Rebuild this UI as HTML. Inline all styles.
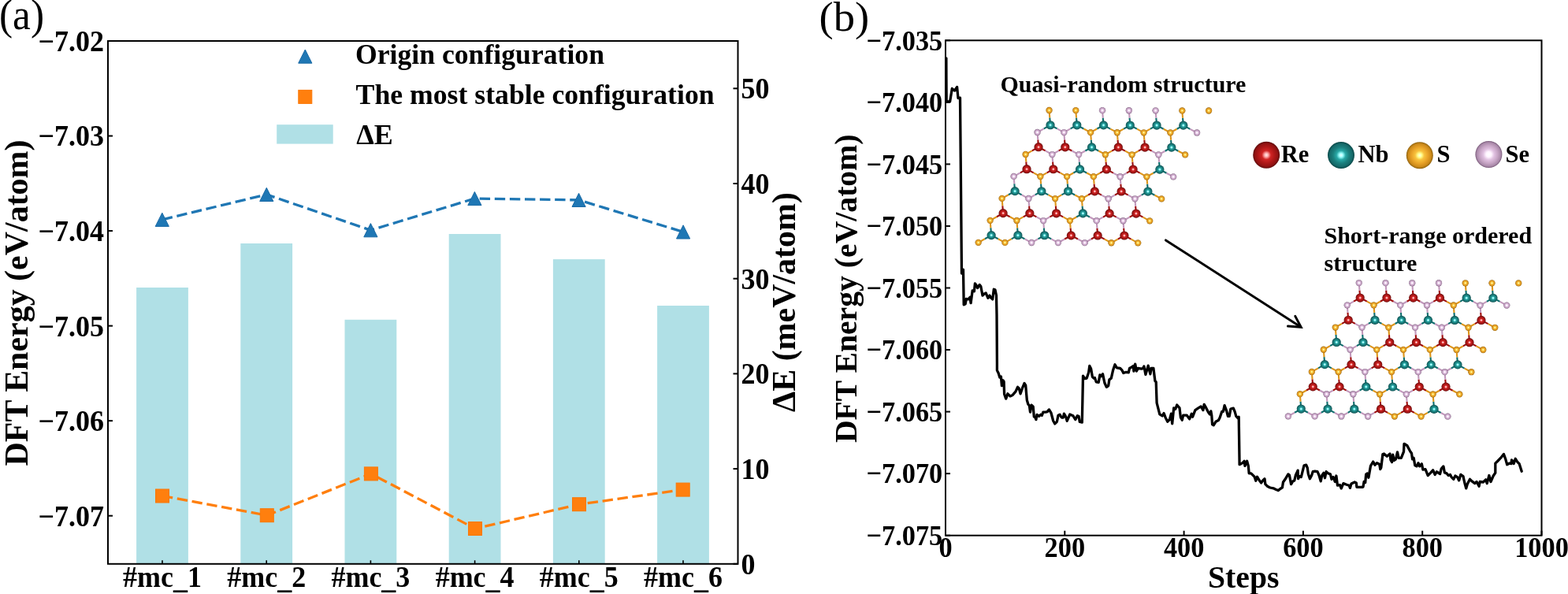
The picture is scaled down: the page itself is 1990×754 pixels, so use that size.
<!DOCTYPE html>
<html><head><meta charset="utf-8"><title>DFT energy figure</title>
<style>html,body{margin:0;padding:0;background:#fff;overflow:hidden}svg{display:block}</style></head>
<body><svg width="1990" height="754" viewBox="0 0 1990 754" font-family="'Liberation Serif', 'Times New Roman', serif" font-weight="bold">
<defs><radialGradient id="gRe" cx="0.5" cy="0.5" r="0.5"><stop offset="0" stop-color="#fff0f0"/><stop offset="0.14" stop-color="#ffb0b0"/><stop offset="0.34" stop-color="#d02424"/><stop offset="0.6" stop-color="#b01818"/><stop offset="0.85" stop-color="#921212"/><stop offset="1" stop-color="#5e0c0c"/></radialGradient><radialGradient id="gNb" cx="0.5" cy="0.5" r="0.5"><stop offset="0" stop-color="#f0ffff"/><stop offset="0.14" stop-color="#a0ffff"/><stop offset="0.34" stop-color="#28a8a6"/><stop offset="0.6" stop-color="#1b807e"/><stop offset="0.85" stop-color="#156a6a"/><stop offset="1" stop-color="#0a4646"/></radialGradient><radialGradient id="gS" cx="0.5" cy="0.5" r="0.5"><stop offset="0" stop-color="#ffffe8"/><stop offset="0.15" stop-color="#ffff90"/><stop offset="0.34" stop-color="#f8c23e"/><stop offset="0.62" stop-color="#e8a228"/><stop offset="0.86" stop-color="#cc8a1a"/><stop offset="1" stop-color="#8e6210"/></radialGradient><radialGradient id="gSe" cx="0.5" cy="0.5" r="0.5"><stop offset="0" stop-color="#ffffff"/><stop offset="0.2" stop-color="#fff4ff"/><stop offset="0.42" stop-color="#e0c0e0"/><stop offset="0.68" stop-color="#c6a4c4"/><stop offset="0.9" stop-color="#a888a8"/><stop offset="1" stop-color="#745474"/></radialGradient></defs>
<rect width="1990" height="754" fill="#fff"/>
<rect x="173.10" y="365" width="65.8" height="350.80" fill="#b0e0e6"/>
<rect x="305.30" y="309" width="65.8" height="406.80" fill="#b0e0e6"/>
<rect x="437.50" y="405.8" width="65.8" height="310.00" fill="#b0e0e6"/>
<rect x="569.70" y="297" width="65.8" height="418.80" fill="#b0e0e6"/>
<rect x="701.90" y="329.1" width="65.8" height="386.70" fill="#b0e0e6"/>
<rect x="834.10" y="388" width="65.8" height="327.80" fill="#b0e0e6"/>
<polyline points="205.8,278.8 338.3,246.9 470.4,292.2 602.4,252.0 734.6,253.9 867.1,294.4" fill="none" stroke="#1f77b4" stroke-width="3.3" stroke-dasharray="13.4 5.7"/>
<polyline points="206.0,629.5 338.8,654.2 470.9,601.4 603.0,671.0 735.0,640.2 866.7,621.6" fill="none" stroke="#ff7f0e" stroke-width="3.3" stroke-dasharray="13.4 5.7"/>
<path d="M205.80,270.20 L197.20,287.40 L214.40,287.40 Z" fill="#1f77b4" stroke="#1a6aa6" stroke-width="1" stroke-linejoin="round"/>
<path d="M338.30,238.30 L329.70,255.50 L346.90,255.50 Z" fill="#1f77b4" stroke="#1a6aa6" stroke-width="1" stroke-linejoin="round"/>
<path d="M470.40,283.60 L461.80,300.80 L479.00,300.80 Z" fill="#1f77b4" stroke="#1a6aa6" stroke-width="1" stroke-linejoin="round"/>
<path d="M602.40,243.40 L593.80,260.60 L611.00,260.60 Z" fill="#1f77b4" stroke="#1a6aa6" stroke-width="1" stroke-linejoin="round"/>
<path d="M734.60,245.30 L726.00,262.50 L743.20,262.50 Z" fill="#1f77b4" stroke="#1a6aa6" stroke-width="1" stroke-linejoin="round"/>
<path d="M867.10,285.80 L858.50,303.00 L875.70,303.00 Z" fill="#1f77b4" stroke="#1a6aa6" stroke-width="1" stroke-linejoin="round"/>
<rect x="197.50" y="621.00" width="17" height="17" fill="#ff7f0e" stroke="#fb7808" stroke-width="1"/>
<rect x="330.30" y="645.70" width="17" height="17" fill="#ff7f0e" stroke="#fb7808" stroke-width="1"/>
<rect x="462.40" y="592.90" width="17" height="17" fill="#ff7f0e" stroke="#fb7808" stroke-width="1"/>
<rect x="594.50" y="662.50" width="17" height="17" fill="#ff7f0e" stroke="#fb7808" stroke-width="1"/>
<rect x="726.50" y="631.70" width="17" height="17" fill="#ff7f0e" stroke="#fb7808" stroke-width="1"/>
<rect x="858.20" y="613.10" width="17" height="17" fill="#ff7f0e" stroke="#fb7808" stroke-width="1"/>
<rect x="137.0" y="52.0" width="799.5" height="663.8" fill="none" stroke="#000" stroke-width="2.0"/>
<line x1="137.0" y1="52.00" x2="143.0" y2="52.00" stroke="#000" stroke-width="2.0"/>
<text transform="translate(131.9,64.90) scale(1,1.035)" text-anchor="end" font-size="36">−7.02</text>
<line x1="137.0" y1="172.54" x2="143.0" y2="172.54" stroke="#000" stroke-width="2.0"/>
<text transform="translate(131.9,185.44) scale(1,1.035)" text-anchor="end" font-size="36">−7.03</text>
<line x1="137.0" y1="293.08" x2="143.0" y2="293.08" stroke="#000" stroke-width="2.0"/>
<text transform="translate(131.9,305.98) scale(1,1.035)" text-anchor="end" font-size="36">−7.04</text>
<line x1="137.0" y1="413.62" x2="143.0" y2="413.62" stroke="#000" stroke-width="2.0"/>
<text transform="translate(131.9,426.52) scale(1,1.035)" text-anchor="end" font-size="36">−7.05</text>
<line x1="137.0" y1="534.16" x2="143.0" y2="534.16" stroke="#000" stroke-width="2.0"/>
<text transform="translate(131.9,547.06) scale(1,1.035)" text-anchor="end" font-size="36">−7.06</text>
<line x1="137.0" y1="654.70" x2="143.0" y2="654.70" stroke="#000" stroke-width="2.0"/>
<text transform="translate(131.9,667.60) scale(1,1.035)" text-anchor="end" font-size="36">−7.07</text>
<line x1="936.5" y1="715.80" x2="930.5" y2="715.80" stroke="#000" stroke-width="2.0"/>
<text transform="translate(940.6,728.60) scale(1,1.035)" font-size="36">0</text>
<line x1="936.5" y1="595.10" x2="930.5" y2="595.10" stroke="#000" stroke-width="2.0"/>
<text transform="translate(940.6,607.90) scale(1,1.035)" font-size="36">10</text>
<line x1="936.5" y1="474.40" x2="930.5" y2="474.40" stroke="#000" stroke-width="2.0"/>
<text transform="translate(940.6,487.20) scale(1,1.035)" font-size="36">20</text>
<line x1="936.5" y1="353.70" x2="930.5" y2="353.70" stroke="#000" stroke-width="2.0"/>
<text transform="translate(940.6,366.50) scale(1,1.035)" font-size="36">30</text>
<line x1="936.5" y1="233.00" x2="930.5" y2="233.00" stroke="#000" stroke-width="2.0"/>
<text transform="translate(940.6,245.80) scale(1,1.035)" font-size="36">40</text>
<line x1="936.5" y1="112.30" x2="930.5" y2="112.30" stroke="#000" stroke-width="2.0"/>
<text transform="translate(940.6,125.10) scale(1,1.035)" font-size="36">50</text>
<line x1="206.00" y1="715.8" x2="206.00" y2="711.3" stroke="#000" stroke-width="1.6"/>
<text transform="translate(206.00,744.9) scale(1,1.035)" text-anchor="middle" font-size="36">#mc<tspan dy="2.5">_</tspan><tspan dy="-2.5">1</tspan></text>
<line x1="338.20" y1="715.8" x2="338.20" y2="711.3" stroke="#000" stroke-width="1.6"/>
<text transform="translate(338.20,744.9) scale(1,1.035)" text-anchor="middle" font-size="36">#mc<tspan dy="2.5">_</tspan><tspan dy="-2.5">2</tspan></text>
<line x1="470.40" y1="715.8" x2="470.40" y2="711.3" stroke="#000" stroke-width="1.6"/>
<text transform="translate(470.40,744.9) scale(1,1.035)" text-anchor="middle" font-size="36">#mc<tspan dy="2.5">_</tspan><tspan dy="-2.5">3</tspan></text>
<line x1="602.60" y1="715.8" x2="602.60" y2="711.3" stroke="#000" stroke-width="1.6"/>
<text transform="translate(602.60,744.9) scale(1,1.035)" text-anchor="middle" font-size="36">#mc<tspan dy="2.5">_</tspan><tspan dy="-2.5">4</tspan></text>
<line x1="734.80" y1="715.8" x2="734.80" y2="711.3" stroke="#000" stroke-width="1.6"/>
<text transform="translate(734.80,744.9) scale(1,1.035)" text-anchor="middle" font-size="36">#mc<tspan dy="2.5">_</tspan><tspan dy="-2.5">5</tspan></text>
<line x1="867.00" y1="715.8" x2="867.00" y2="711.3" stroke="#000" stroke-width="1.6"/>
<text transform="translate(867.00,744.9) scale(1,1.035)" text-anchor="middle" font-size="36">#mc<tspan dy="2.5">_</tspan><tspan dy="-2.5">6</tspan></text>
<text transform="translate(34.8,384.5) rotate(-90)" text-anchor="middle" font-size="42" textLength="414" lengthAdjust="spacingAndGlyphs">DFT Energy (eV/atom)</text>
<text transform="translate(1009.3,383.6) rotate(-90)" text-anchor="middle" font-size="42" textLength="279" lengthAdjust="spacingAndGlyphs">ΔE (meV/atom)</text>
<path d="M387.30,63.00 L378.70,80.20 L395.90,80.20 Z" fill="#1f77b4" stroke="#1a6aa6" stroke-width="1" stroke-linejoin="round"/>
<rect x="378.80" y="114.40" width="17" height="17" fill="#ff7f0e" stroke="#fb7808" stroke-width="1"/>
<rect x="351.2" y="158.2" width="71.5" height="24.4" fill="#b0e0e6"/>
<text x="451" y="81.3" font-size="36" textLength="316" lengthAdjust="spacingAndGlyphs">Origin configuration</text>
<text x="451.6" y="132.4" font-size="36" textLength="455" lengthAdjust="spacingAndGlyphs">The most stable configuration</text>
<text x="452.3" y="182.6" font-size="36">ΔE</text>
<text x="-1" y="37.2" font-size="55" font-weight="normal" textLength="57" lengthAdjust="spacingAndGlyphs">(a)</text>
<rect x="1200.0" y="51.3" width="756.5" height="628.4000000000001" fill="none" stroke="#000" stroke-width="2.0"/>
<line x1="1200.0" y1="51.30" x2="1206.0" y2="51.30" stroke="#000" stroke-width="2.0"/>
<text transform="translate(1196.2,63.60) scale(1,1.065)" text-anchor="end" font-size="34.3">−7.035</text>
<line x1="1200.0" y1="129.85" x2="1206.0" y2="129.85" stroke="#000" stroke-width="2.0"/>
<text transform="translate(1196.2,142.15) scale(1,1.065)" text-anchor="end" font-size="34.3">−7.040</text>
<line x1="1200.0" y1="208.40" x2="1206.0" y2="208.40" stroke="#000" stroke-width="2.0"/>
<text transform="translate(1196.2,220.70) scale(1,1.065)" text-anchor="end" font-size="34.3">−7.045</text>
<line x1="1200.0" y1="286.95" x2="1206.0" y2="286.95" stroke="#000" stroke-width="2.0"/>
<text transform="translate(1196.2,299.25) scale(1,1.065)" text-anchor="end" font-size="34.3">−7.050</text>
<line x1="1200.0" y1="365.50" x2="1206.0" y2="365.50" stroke="#000" stroke-width="2.0"/>
<text transform="translate(1196.2,377.80) scale(1,1.065)" text-anchor="end" font-size="34.3">−7.055</text>
<line x1="1200.0" y1="444.05" x2="1206.0" y2="444.05" stroke="#000" stroke-width="2.0"/>
<text transform="translate(1196.2,456.35) scale(1,1.065)" text-anchor="end" font-size="34.3">−7.060</text>
<line x1="1200.0" y1="522.60" x2="1206.0" y2="522.60" stroke="#000" stroke-width="2.0"/>
<text transform="translate(1196.2,534.90) scale(1,1.065)" text-anchor="end" font-size="34.3">−7.065</text>
<line x1="1200.0" y1="601.15" x2="1206.0" y2="601.15" stroke="#000" stroke-width="2.0"/>
<text transform="translate(1196.2,613.45) scale(1,1.065)" text-anchor="end" font-size="34.3">−7.070</text>
<line x1="1200.0" y1="679.70" x2="1206.0" y2="679.70" stroke="#000" stroke-width="2.0"/>
<text transform="translate(1196.2,692.00) scale(1,1.065)" text-anchor="end" font-size="34.3">−7.075</text>
<line x1="1200.00" y1="679.7" x2="1200.00" y2="673.7" stroke="#000" stroke-width="2.0"/>
<text transform="translate(1200.00,707.2) scale(1,1.065)" text-anchor="middle" font-size="34.3">0</text>
<line x1="1351.30" y1="679.7" x2="1351.30" y2="673.7" stroke="#000" stroke-width="2.0"/>
<text transform="translate(1351.30,707.2) scale(1,1.065)" text-anchor="middle" font-size="34.3">200</text>
<line x1="1502.60" y1="679.7" x2="1502.60" y2="673.7" stroke="#000" stroke-width="2.0"/>
<text transform="translate(1502.60,707.2) scale(1,1.065)" text-anchor="middle" font-size="34.3">400</text>
<line x1="1653.90" y1="679.7" x2="1653.90" y2="673.7" stroke="#000" stroke-width="2.0"/>
<text transform="translate(1653.90,707.2) scale(1,1.065)" text-anchor="middle" font-size="34.3">600</text>
<line x1="1805.20" y1="679.7" x2="1805.20" y2="673.7" stroke="#000" stroke-width="2.0"/>
<text transform="translate(1805.20,707.2) scale(1,1.065)" text-anchor="middle" font-size="34.3">800</text>
<line x1="1956.50" y1="679.7" x2="1956.50" y2="673.7" stroke="#000" stroke-width="2.0"/>
<text transform="translate(1956.50,707.2) scale(1,1.065)" text-anchor="middle" font-size="34.3">1000</text>
<text x="1578.2" y="745.8" text-anchor="middle" font-size="39.7">Steps</text>
<text transform="translate(1086.7,366.3) rotate(-90)" text-anchor="middle" font-size="39.7" textLength="391.5" lengthAdjust="spacingAndGlyphs">DFT Energy (eV/atom)</text>
<text x="1039.6" y="39.2" font-size="53.4" font-weight="normal" textLength="63.6" lengthAdjust="spacingAndGlyphs">(b)</text>
<polyline points="1200.9,73.8 1201.0,100.0 1201.2,128.9 1205.6,128.9 1208.3,112.5 1211.4,115.1 1214.6,110.4 1216.0,124.7 1218.5,124.2 1219.2,200.0 1220.5,347.0 1222.5,342.3 1223.2,386.8 1225.2,385.7 1226.3,379.4 1228.9,379.9 1231.1,377.3 1232.1,384.7 1234.2,368.8 1236.4,369.8 1237.4,359.8 1239.0,361.9 1240.6,365.6 1243.2,361.4 1244.8,363.5 1247.0,375.1 1249.1,373.0 1251.2,372.0 1253.9,378.3 1256.0,375.1 1257.6,377.8 1259.7,379.9 1261.3,367.2 1262.9,367.7 1264.5,375.1 1265.0,400.0 1265.4,460.0 1265.4,470.1 1267.2,473.8 1268.8,479.1 1270.4,478.0 1271.4,489.7 1273.0,482.8 1274.1,484.4 1274.6,500.3 1276.7,506.1 1278.9,499.8 1282.0,502.9 1285.2,501.4 1288.9,497.1 1291.6,491.3 1293.2,492.9 1295.1,499.8 1297.4,492.9 1300.1,486.5 1301.7,489.2 1303.3,507.7 1304.8,513.0 1306.4,515.1 1307.5,523.1 1309.1,514.1 1311.2,516.2 1312.3,528.9 1313.9,530.0 1314.9,532.6 1316.0,526.3 1318.6,528.4 1320.7,526.3 1322.3,527.3 1323.9,523.1 1327.1,523.1 1329.2,522.6 1331.4,519.9 1334.0,524.2 1336.7,534.2 1338.8,537.9 1341.4,535.3 1343.0,527.3 1345.1,526.3 1347.3,530.0 1349.4,530.0 1350.4,525.2 1352.6,528.9 1354.2,534.4 1357.8,526.0 1361.9,527.8 1364.9,532.6 1367.3,527.8 1369.1,528.4 1370.3,535.5 1373.3,536.1 1374.5,477.1 1376.8,480.7 1379.2,480.1 1381.6,472.9 1382.8,464.5 1384.6,468.1 1386.4,478.3 1388.2,480.1 1389.4,479.5 1391.2,484.8 1394.2,485.4 1395.9,475.9 1397.7,477.7 1399.5,474.7 1401.9,486.0 1404.3,491.4 1406.7,489.6 1407.9,481.8 1410.3,480.1 1412.6,469.9 1415.0,462.8 1417.4,466.9 1421.6,467.5 1424.0,469.9 1425.8,473.5 1429.4,472.3 1432.3,472.9 1433.5,467.5 1435.9,466.3 1438.3,464.5 1438.9,471.1 1440.7,462.2 1442.5,471.1 1444.3,467.5 1449.0,468.1 1450.6,467.5 1451.9,464.9 1453.9,475.5 1457.2,464.2 1459.9,474.8 1461.2,467.5 1463.9,467.5 1465.9,483.5 1467.2,484.8 1468.1,511.3 1471.8,525.9 1475.1,527.9 1477.1,524.6 1479.1,529.9 1481.8,535.2 1484.4,532.5 1486.4,525.2 1487.7,537.8 1489.7,517.9 1491.7,519.3 1493.7,514.0 1497.0,517.9 1498.4,529.9 1500.3,533.2 1501.7,527.2 1506.3,527.2 1509.6,531.9 1512.3,525.2 1513.6,529.2 1516.9,520.6 1520.9,517.9 1524.2,516.0 1526.9,520.6 1528.2,513.3 1530.8,517.9 1533.5,523.2 1535.5,525.9 1536.8,521.9 1537.8,527.6 1538.6,538.8 1540.3,539.7 1542.9,535.3 1546.4,533.6 1548.1,530.2 1550.7,522.4 1552.4,522.4 1554.1,514.7 1556.7,521.6 1558.4,528.4 1560.2,528.4 1561.9,519.0 1565.3,518.1 1567.1,522.4 1568.8,528.4 1571.4,531.0 1572.2,529.3 1573.1,589.7 1576.6,587.9 1579.1,585.3 1580.0,591.4 1582.6,585.3 1584.3,591.4 1585.2,600.9 1587.8,600.9 1590.3,603.4 1592.1,605.2 1593.8,610.3 1595.5,605.2 1598.1,609.5 1600.7,612.9 1602.4,610.3 1605.0,607.8 1605.9,614.7 1608.4,617.2 1611.9,619.0 1616.2,619.8 1619.7,621.6 1622.1,622.6 1624.8,620.5 1627.4,618.9 1628.5,612.0 1631.1,608.3 1634.9,601.9 1636.4,603.0 1638.6,614.6 1640.7,610.9 1642.8,609.9 1644.4,603.0 1646.0,599.8 1647.1,597.1 1647.6,607.7 1649.2,604.6 1651.3,605.6 1655.0,590.8 1657.7,590.2 1659.3,594.0 1660.3,601.4 1662.4,607.7 1664.6,603.5 1666.2,598.7 1668.8,598.2 1672.0,598.7 1674.1,603.5 1676.2,610.9 1677.8,603.5 1679.9,600.3 1681.5,606.7 1683.1,598.7 1685.3,600.8 1688.4,601.9 1690.0,608.3 1692.1,605.6 1694.3,611.5 1695.9,604.0 1697.5,616.2 1700.6,615.7 1702.2,620.0 1704.9,613.6 1709.1,615.2 1712.3,616.2 1713.4,619.4 1715.0,614.1 1719.2,612.0 1721.3,613.0 1721.9,618.4 1729.3,618.4 1730.0,617.9 1731.1,611.5 1732.7,612.6 1733.7,602.0 1735.3,600.9 1736.9,606.2 1739.5,591.4 1742.7,586.1 1744.9,590.3 1747.5,587.7 1750.7,589.3 1751.8,595.6 1752.8,593.5 1754.9,576.5 1756.5,576.0 1760.2,579.2 1764.0,576.0 1765.0,584.0 1766.6,586.6 1767.7,577.1 1769.3,584.5 1771.4,582.9 1773.5,573.9 1775.1,581.3 1778.3,581.3 1781.5,573.3 1782.0,563.3 1785.7,565.4 1789.4,572.3 1791.5,575.5 1792.6,582.9 1794.2,581.3 1795.8,590.8 1797.9,591.9 1800.0,587.7 1801.6,591.9 1804.3,588.7 1805.9,596.2 1809.0,595.6 1812.2,603.6 1815.9,599.9 1818.6,596.7 1821.2,602.5 1823.4,598.8 1827.6,601.5 1829.2,595.1 1831.9,591.9 1833.4,599.9 1836.1,600.9 1838.2,603.6 1840.5,602.4 1842.1,605.6 1844.8,608.3 1846.9,604.0 1849.5,605.6 1851.7,609.9 1853.8,602.4 1857.0,604.6 1858.6,612.0 1860.7,619.9 1862.3,614.6 1865.5,608.3 1868.1,610.9 1871.8,613.6 1874.0,611.5 1877.1,617.3 1878.2,611.5 1882.4,612.0 1885.6,608.8 1887.2,613.6 1889.9,603.5 1892.0,611.5 1895.2,604.0 1897.8,600.3 1897.8,588.1 1900.5,585.5 1904.7,581.2 1908.4,576.4 1910.6,582.3 1912.7,589.7 1915.9,588.1 1918.0,588.6 1918.5,583.9 1920.6,586.0 1921.2,588.6 1923.3,582.3 1925.9,586.5 1928.1,588.6 1931.2,598.2" fill="none" stroke="#000" stroke-width="3.3" stroke-linejoin="round" stroke-linecap="round"/>
<line x1="1479.5" y1="304.9" x2="1650" y2="414.5" stroke="#000" stroke-width="3" stroke-linecap="round"/>
<polyline points="1643.8,401.4 1651.2,415.3 1634.5,414" fill="none" stroke="#000" stroke-width="3" stroke-linecap="round" stroke-linejoin="miter"/>
<text x="1269.5" y="116.8" font-size="30">Quasi-random structure</text>
<text x="1680.5" y="308.7" font-size="30">Short-range ordered</text>
<text x="1680.5" y="344.1" font-size="30">structure</text>
<line x1="1333.02" y1="158.75" x2="1341.67" y2="163.41" stroke="#0f6e6e" stroke-width="2.1"/>
<line x1="1341.67" y1="163.41" x2="1350.32" y2="168.07" stroke="#c298bc" stroke-width="2.1"/>
<line x1="1333.02" y1="158.75" x2="1324.79" y2="163.37" stroke="#0f6e6e" stroke-width="2.1"/>
<line x1="1324.79" y1="163.37" x2="1316.56" y2="167.99" stroke="#c298bc" stroke-width="2.1"/>
<line x1="1333.02" y1="158.75" x2="1332.28" y2="149.38" stroke="#0f6e6e" stroke-width="2.1"/>
<line x1="1332.28" y1="149.38" x2="1331.54" y2="140.02" stroke="#de951a" stroke-width="2.1"/>
<line x1="1366.78" y1="158.83" x2="1375.43" y2="163.49" stroke="#0f6e6e" stroke-width="2.1"/>
<line x1="1375.43" y1="163.49" x2="1384.08" y2="168.15" stroke="#de951a" stroke-width="2.1"/>
<line x1="1366.78" y1="158.83" x2="1358.55" y2="163.45" stroke="#0f6e6e" stroke-width="2.1"/>
<line x1="1358.55" y1="163.45" x2="1350.32" y2="168.07" stroke="#c298bc" stroke-width="2.1"/>
<line x1="1366.78" y1="158.83" x2="1366.04" y2="149.47" stroke="#0f6e6e" stroke-width="2.1"/>
<line x1="1366.04" y1="149.47" x2="1365.30" y2="140.10" stroke="#de951a" stroke-width="2.1"/>
<line x1="1400.53" y1="158.91" x2="1409.18" y2="163.57" stroke="#0f6e6e" stroke-width="2.1"/>
<line x1="1409.18" y1="163.57" x2="1417.83" y2="168.23" stroke="#de951a" stroke-width="2.1"/>
<line x1="1400.53" y1="158.91" x2="1392.30" y2="163.53" stroke="#0f6e6e" stroke-width="2.1"/>
<line x1="1392.30" y1="163.53" x2="1384.08" y2="168.15" stroke="#de951a" stroke-width="2.1"/>
<line x1="1400.53" y1="158.91" x2="1399.79" y2="149.55" stroke="#0f6e6e" stroke-width="2.1"/>
<line x1="1399.79" y1="149.55" x2="1399.06" y2="140.18" stroke="#c298bc" stroke-width="2.1"/>
<line x1="1434.29" y1="158.99" x2="1442.93" y2="163.65" stroke="#0f6e6e" stroke-width="2.1"/>
<line x1="1442.93" y1="163.65" x2="1451.59" y2="168.31" stroke="#de951a" stroke-width="2.1"/>
<line x1="1434.29" y1="158.99" x2="1426.06" y2="163.61" stroke="#0f6e6e" stroke-width="2.1"/>
<line x1="1426.06" y1="163.61" x2="1417.83" y2="168.23" stroke="#de951a" stroke-width="2.1"/>
<line x1="1434.29" y1="158.99" x2="1433.55" y2="149.62" stroke="#0f6e6e" stroke-width="2.1"/>
<line x1="1433.55" y1="149.62" x2="1432.81" y2="140.26" stroke="#c298bc" stroke-width="2.1"/>
<line x1="1468.04" y1="159.07" x2="1476.69" y2="163.73" stroke="#0f6e6e" stroke-width="2.1"/>
<line x1="1476.69" y1="163.73" x2="1485.34" y2="168.39" stroke="#de951a" stroke-width="2.1"/>
<line x1="1468.04" y1="159.07" x2="1459.81" y2="163.69" stroke="#0f6e6e" stroke-width="2.1"/>
<line x1="1459.81" y1="163.69" x2="1451.59" y2="168.31" stroke="#de951a" stroke-width="2.1"/>
<line x1="1468.04" y1="159.07" x2="1467.30" y2="149.70" stroke="#0f6e6e" stroke-width="2.1"/>
<line x1="1467.30" y1="149.70" x2="1466.57" y2="140.34" stroke="#c298bc" stroke-width="2.1"/>
<line x1="1501.80" y1="159.15" x2="1510.45" y2="163.81" stroke="#0f6e6e" stroke-width="2.1"/>
<line x1="1510.45" y1="163.81" x2="1519.10" y2="168.47" stroke="#c298bc" stroke-width="2.1"/>
<line x1="1501.80" y1="159.15" x2="1493.57" y2="163.77" stroke="#0f6e6e" stroke-width="2.1"/>
<line x1="1493.57" y1="163.77" x2="1485.34" y2="168.39" stroke="#de951a" stroke-width="2.1"/>
<line x1="1501.80" y1="159.15" x2="1501.06" y2="149.78" stroke="#0f6e6e" stroke-width="2.1"/>
<line x1="1501.06" y1="149.78" x2="1500.32" y2="140.42" stroke="#de951a" stroke-width="2.1"/>
<line x1="1318.04" y1="186.72" x2="1326.69" y2="191.38" stroke="#9e0e0e" stroke-width="2.1"/>
<line x1="1326.69" y1="191.38" x2="1335.34" y2="196.04" stroke="#c298bc" stroke-width="2.1"/>
<line x1="1318.04" y1="186.72" x2="1309.81" y2="191.34" stroke="#9e0e0e" stroke-width="2.1"/>
<line x1="1309.81" y1="191.34" x2="1301.58" y2="195.96" stroke="#de951a" stroke-width="2.1"/>
<line x1="1318.04" y1="186.72" x2="1317.30" y2="177.35" stroke="#9e0e0e" stroke-width="2.1"/>
<line x1="1317.30" y1="177.35" x2="1316.56" y2="167.99" stroke="#c298bc" stroke-width="2.1"/>
<line x1="1351.80" y1="186.80" x2="1360.45" y2="191.46" stroke="#9e0e0e" stroke-width="2.1"/>
<line x1="1360.45" y1="191.46" x2="1369.10" y2="196.12" stroke="#c298bc" stroke-width="2.1"/>
<line x1="1351.80" y1="186.80" x2="1343.57" y2="191.42" stroke="#9e0e0e" stroke-width="2.1"/>
<line x1="1343.57" y1="191.42" x2="1335.34" y2="196.04" stroke="#c298bc" stroke-width="2.1"/>
<line x1="1351.80" y1="186.80" x2="1351.06" y2="177.44" stroke="#9e0e0e" stroke-width="2.1"/>
<line x1="1351.06" y1="177.44" x2="1350.32" y2="168.07" stroke="#c298bc" stroke-width="2.1"/>
<line x1="1385.55" y1="186.88" x2="1394.20" y2="191.54" stroke="#0f6e6e" stroke-width="2.1"/>
<line x1="1394.20" y1="191.54" x2="1402.85" y2="196.20" stroke="#de951a" stroke-width="2.1"/>
<line x1="1385.55" y1="186.88" x2="1377.32" y2="191.50" stroke="#0f6e6e" stroke-width="2.1"/>
<line x1="1377.32" y1="191.50" x2="1369.10" y2="196.12" stroke="#c298bc" stroke-width="2.1"/>
<line x1="1385.55" y1="186.88" x2="1384.81" y2="177.51" stroke="#0f6e6e" stroke-width="2.1"/>
<line x1="1384.81" y1="177.51" x2="1384.08" y2="168.15" stroke="#de951a" stroke-width="2.1"/>
<line x1="1419.31" y1="186.96" x2="1427.95" y2="191.62" stroke="#9e0e0e" stroke-width="2.1"/>
<line x1="1427.95" y1="191.62" x2="1436.61" y2="196.28" stroke="#de951a" stroke-width="2.1"/>
<line x1="1419.31" y1="186.96" x2="1411.08" y2="191.58" stroke="#9e0e0e" stroke-width="2.1"/>
<line x1="1411.08" y1="191.58" x2="1402.85" y2="196.20" stroke="#de951a" stroke-width="2.1"/>
<line x1="1419.31" y1="186.96" x2="1418.57" y2="177.59" stroke="#9e0e0e" stroke-width="2.1"/>
<line x1="1418.57" y1="177.59" x2="1417.83" y2="168.23" stroke="#de951a" stroke-width="2.1"/>
<line x1="1453.06" y1="187.04" x2="1461.71" y2="191.70" stroke="#9e0e0e" stroke-width="2.1"/>
<line x1="1461.71" y1="191.70" x2="1470.36" y2="196.36" stroke="#c298bc" stroke-width="2.1"/>
<line x1="1453.06" y1="187.04" x2="1444.83" y2="191.66" stroke="#9e0e0e" stroke-width="2.1"/>
<line x1="1444.83" y1="191.66" x2="1436.61" y2="196.28" stroke="#de951a" stroke-width="2.1"/>
<line x1="1453.06" y1="187.04" x2="1452.32" y2="177.68" stroke="#9e0e0e" stroke-width="2.1"/>
<line x1="1452.32" y1="177.68" x2="1451.59" y2="168.31" stroke="#de951a" stroke-width="2.1"/>
<line x1="1486.82" y1="187.12" x2="1495.47" y2="191.78" stroke="#0f6e6e" stroke-width="2.1"/>
<line x1="1495.47" y1="191.78" x2="1504.12" y2="196.44" stroke="#de951a" stroke-width="2.1"/>
<line x1="1486.82" y1="187.12" x2="1478.59" y2="191.74" stroke="#0f6e6e" stroke-width="2.1"/>
<line x1="1478.59" y1="191.74" x2="1470.36" y2="196.36" stroke="#c298bc" stroke-width="2.1"/>
<line x1="1486.82" y1="187.12" x2="1486.08" y2="177.75" stroke="#0f6e6e" stroke-width="2.1"/>
<line x1="1486.08" y1="177.75" x2="1485.34" y2="168.39" stroke="#de951a" stroke-width="2.1"/>
<line x1="1303.06" y1="214.69" x2="1311.71" y2="219.35" stroke="#9e0e0e" stroke-width="2.1"/>
<line x1="1311.71" y1="219.35" x2="1320.36" y2="224.01" stroke="#de951a" stroke-width="2.1"/>
<line x1="1303.06" y1="214.69" x2="1294.83" y2="219.31" stroke="#9e0e0e" stroke-width="2.1"/>
<line x1="1294.83" y1="219.31" x2="1286.60" y2="223.93" stroke="#c298bc" stroke-width="2.1"/>
<line x1="1303.06" y1="214.69" x2="1302.32" y2="205.32" stroke="#9e0e0e" stroke-width="2.1"/>
<line x1="1302.32" y1="205.32" x2="1301.58" y2="195.96" stroke="#de951a" stroke-width="2.1"/>
<line x1="1336.82" y1="214.77" x2="1345.47" y2="219.43" stroke="#9e0e0e" stroke-width="2.1"/>
<line x1="1345.47" y1="219.43" x2="1354.12" y2="224.09" stroke="#de951a" stroke-width="2.1"/>
<line x1="1336.82" y1="214.77" x2="1328.59" y2="219.39" stroke="#9e0e0e" stroke-width="2.1"/>
<line x1="1328.59" y1="219.39" x2="1320.36" y2="224.01" stroke="#de951a" stroke-width="2.1"/>
<line x1="1336.82" y1="214.77" x2="1336.08" y2="205.41" stroke="#9e0e0e" stroke-width="2.1"/>
<line x1="1336.08" y1="205.41" x2="1335.34" y2="196.04" stroke="#c298bc" stroke-width="2.1"/>
<line x1="1370.57" y1="214.85" x2="1379.22" y2="219.51" stroke="#0f6e6e" stroke-width="2.1"/>
<line x1="1379.22" y1="219.51" x2="1387.87" y2="224.17" stroke="#de951a" stroke-width="2.1"/>
<line x1="1370.57" y1="214.85" x2="1362.34" y2="219.47" stroke="#0f6e6e" stroke-width="2.1"/>
<line x1="1362.34" y1="219.47" x2="1354.12" y2="224.09" stroke="#de951a" stroke-width="2.1"/>
<line x1="1370.57" y1="214.85" x2="1369.83" y2="205.49" stroke="#0f6e6e" stroke-width="2.1"/>
<line x1="1369.83" y1="205.49" x2="1369.10" y2="196.12" stroke="#c298bc" stroke-width="2.1"/>
<line x1="1404.33" y1="214.93" x2="1412.97" y2="219.59" stroke="#9e0e0e" stroke-width="2.1"/>
<line x1="1412.97" y1="219.59" x2="1421.62" y2="224.25" stroke="#c298bc" stroke-width="2.1"/>
<line x1="1404.33" y1="214.93" x2="1396.10" y2="219.55" stroke="#9e0e0e" stroke-width="2.1"/>
<line x1="1396.10" y1="219.55" x2="1387.87" y2="224.17" stroke="#de951a" stroke-width="2.1"/>
<line x1="1404.33" y1="214.93" x2="1403.59" y2="205.56" stroke="#9e0e0e" stroke-width="2.1"/>
<line x1="1403.59" y1="205.56" x2="1402.85" y2="196.20" stroke="#de951a" stroke-width="2.1"/>
<line x1="1438.08" y1="215.01" x2="1446.73" y2="219.67" stroke="#9e0e0e" stroke-width="2.1"/>
<line x1="1446.73" y1="219.67" x2="1455.38" y2="224.33" stroke="#de951a" stroke-width="2.1"/>
<line x1="1438.08" y1="215.01" x2="1429.85" y2="219.63" stroke="#9e0e0e" stroke-width="2.1"/>
<line x1="1429.85" y1="219.63" x2="1421.62" y2="224.25" stroke="#c298bc" stroke-width="2.1"/>
<line x1="1438.08" y1="215.01" x2="1437.34" y2="205.64" stroke="#9e0e0e" stroke-width="2.1"/>
<line x1="1437.34" y1="205.64" x2="1436.61" y2="196.28" stroke="#de951a" stroke-width="2.1"/>
<line x1="1471.84" y1="215.09" x2="1480.49" y2="219.75" stroke="#0f6e6e" stroke-width="2.1"/>
<line x1="1480.49" y1="219.75" x2="1489.13" y2="224.41" stroke="#c298bc" stroke-width="2.1"/>
<line x1="1471.84" y1="215.09" x2="1463.61" y2="219.71" stroke="#0f6e6e" stroke-width="2.1"/>
<line x1="1463.61" y1="219.71" x2="1455.38" y2="224.33" stroke="#de951a" stroke-width="2.1"/>
<line x1="1471.84" y1="215.09" x2="1471.10" y2="205.72" stroke="#0f6e6e" stroke-width="2.1"/>
<line x1="1471.10" y1="205.72" x2="1470.36" y2="196.36" stroke="#c298bc" stroke-width="2.1"/>
<line x1="1288.08" y1="242.66" x2="1296.73" y2="247.32" stroke="#0f6e6e" stroke-width="2.1"/>
<line x1="1296.73" y1="247.32" x2="1305.38" y2="251.98" stroke="#c298bc" stroke-width="2.1"/>
<line x1="1288.08" y1="242.66" x2="1279.85" y2="247.28" stroke="#0f6e6e" stroke-width="2.1"/>
<line x1="1279.85" y1="247.28" x2="1271.62" y2="251.90" stroke="#de951a" stroke-width="2.1"/>
<line x1="1288.08" y1="242.66" x2="1287.34" y2="233.29" stroke="#0f6e6e" stroke-width="2.1"/>
<line x1="1287.34" y1="233.29" x2="1286.60" y2="223.93" stroke="#c298bc" stroke-width="2.1"/>
<line x1="1321.84" y1="242.74" x2="1330.49" y2="247.40" stroke="#0f6e6e" stroke-width="2.1"/>
<line x1="1330.49" y1="247.40" x2="1339.13" y2="252.06" stroke="#de951a" stroke-width="2.1"/>
<line x1="1321.84" y1="242.74" x2="1313.61" y2="247.36" stroke="#0f6e6e" stroke-width="2.1"/>
<line x1="1313.61" y1="247.36" x2="1305.38" y2="251.98" stroke="#c298bc" stroke-width="2.1"/>
<line x1="1321.84" y1="242.74" x2="1321.10" y2="233.38" stroke="#0f6e6e" stroke-width="2.1"/>
<line x1="1321.10" y1="233.38" x2="1320.36" y2="224.01" stroke="#de951a" stroke-width="2.1"/>
<line x1="1355.59" y1="242.82" x2="1364.24" y2="247.48" stroke="#0f6e6e" stroke-width="2.1"/>
<line x1="1364.24" y1="247.48" x2="1372.89" y2="252.14" stroke="#de951a" stroke-width="2.1"/>
<line x1="1355.59" y1="242.82" x2="1347.36" y2="247.44" stroke="#0f6e6e" stroke-width="2.1"/>
<line x1="1347.36" y1="247.44" x2="1339.13" y2="252.06" stroke="#de951a" stroke-width="2.1"/>
<line x1="1355.59" y1="242.82" x2="1354.85" y2="233.45" stroke="#0f6e6e" stroke-width="2.1"/>
<line x1="1354.85" y1="233.45" x2="1354.12" y2="224.09" stroke="#de951a" stroke-width="2.1"/>
<line x1="1389.35" y1="242.90" x2="1397.99" y2="247.56" stroke="#9e0e0e" stroke-width="2.1"/>
<line x1="1397.99" y1="247.56" x2="1406.64" y2="252.22" stroke="#c298bc" stroke-width="2.1"/>
<line x1="1389.35" y1="242.90" x2="1381.12" y2="247.52" stroke="#9e0e0e" stroke-width="2.1"/>
<line x1="1381.12" y1="247.52" x2="1372.89" y2="252.14" stroke="#de951a" stroke-width="2.1"/>
<line x1="1389.35" y1="242.90" x2="1388.61" y2="233.53" stroke="#9e0e0e" stroke-width="2.1"/>
<line x1="1388.61" y1="233.53" x2="1387.87" y2="224.17" stroke="#de951a" stroke-width="2.1"/>
<line x1="1423.10" y1="242.98" x2="1431.75" y2="247.64" stroke="#9e0e0e" stroke-width="2.1"/>
<line x1="1431.75" y1="247.64" x2="1440.40" y2="252.30" stroke="#c298bc" stroke-width="2.1"/>
<line x1="1423.10" y1="242.98" x2="1414.87" y2="247.60" stroke="#9e0e0e" stroke-width="2.1"/>
<line x1="1414.87" y1="247.60" x2="1406.64" y2="252.22" stroke="#c298bc" stroke-width="2.1"/>
<line x1="1423.10" y1="242.98" x2="1422.36" y2="233.62" stroke="#9e0e0e" stroke-width="2.1"/>
<line x1="1422.36" y1="233.62" x2="1421.62" y2="224.25" stroke="#c298bc" stroke-width="2.1"/>
<line x1="1456.86" y1="243.06" x2="1465.51" y2="247.72" stroke="#0f6e6e" stroke-width="2.1"/>
<line x1="1465.51" y1="247.72" x2="1474.15" y2="252.38" stroke="#de951a" stroke-width="2.1"/>
<line x1="1456.86" y1="243.06" x2="1448.63" y2="247.68" stroke="#0f6e6e" stroke-width="2.1"/>
<line x1="1448.63" y1="247.68" x2="1440.40" y2="252.30" stroke="#c298bc" stroke-width="2.1"/>
<line x1="1456.86" y1="243.06" x2="1456.12" y2="233.69" stroke="#0f6e6e" stroke-width="2.1"/>
<line x1="1456.12" y1="233.69" x2="1455.38" y2="224.33" stroke="#de951a" stroke-width="2.1"/>
<line x1="1273.10" y1="270.63" x2="1281.75" y2="275.29" stroke="#9e0e0e" stroke-width="2.1"/>
<line x1="1281.75" y1="275.29" x2="1290.40" y2="279.95" stroke="#de951a" stroke-width="2.1"/>
<line x1="1273.10" y1="270.63" x2="1264.87" y2="275.25" stroke="#9e0e0e" stroke-width="2.1"/>
<line x1="1264.87" y1="275.25" x2="1256.64" y2="279.87" stroke="#de951a" stroke-width="2.1"/>
<line x1="1273.10" y1="270.63" x2="1272.36" y2="261.26" stroke="#9e0e0e" stroke-width="2.1"/>
<line x1="1272.36" y1="261.26" x2="1271.62" y2="251.90" stroke="#de951a" stroke-width="2.1"/>
<line x1="1306.86" y1="270.71" x2="1315.51" y2="275.37" stroke="#9e0e0e" stroke-width="2.1"/>
<line x1="1315.51" y1="275.37" x2="1324.15" y2="280.03" stroke="#c298bc" stroke-width="2.1"/>
<line x1="1306.86" y1="270.71" x2="1298.63" y2="275.33" stroke="#9e0e0e" stroke-width="2.1"/>
<line x1="1298.63" y1="275.33" x2="1290.40" y2="279.95" stroke="#de951a" stroke-width="2.1"/>
<line x1="1306.86" y1="270.71" x2="1306.12" y2="261.35" stroke="#9e0e0e" stroke-width="2.1"/>
<line x1="1306.12" y1="261.35" x2="1305.38" y2="251.98" stroke="#c298bc" stroke-width="2.1"/>
<line x1="1340.61" y1="270.79" x2="1349.26" y2="275.45" stroke="#9e0e0e" stroke-width="2.1"/>
<line x1="1349.26" y1="275.45" x2="1357.91" y2="280.11" stroke="#de951a" stroke-width="2.1"/>
<line x1="1340.61" y1="270.79" x2="1332.38" y2="275.41" stroke="#9e0e0e" stroke-width="2.1"/>
<line x1="1332.38" y1="275.41" x2="1324.15" y2="280.03" stroke="#c298bc" stroke-width="2.1"/>
<line x1="1340.61" y1="270.79" x2="1339.87" y2="261.42" stroke="#9e0e0e" stroke-width="2.1"/>
<line x1="1339.87" y1="261.42" x2="1339.13" y2="252.06" stroke="#de951a" stroke-width="2.1"/>
<line x1="1374.37" y1="270.87" x2="1383.01" y2="275.53" stroke="#0f6e6e" stroke-width="2.1"/>
<line x1="1383.01" y1="275.53" x2="1391.66" y2="280.19" stroke="#c298bc" stroke-width="2.1"/>
<line x1="1374.37" y1="270.87" x2="1366.14" y2="275.49" stroke="#0f6e6e" stroke-width="2.1"/>
<line x1="1366.14" y1="275.49" x2="1357.91" y2="280.11" stroke="#de951a" stroke-width="2.1"/>
<line x1="1374.37" y1="270.87" x2="1373.63" y2="261.50" stroke="#0f6e6e" stroke-width="2.1"/>
<line x1="1373.63" y1="261.50" x2="1372.89" y2="252.14" stroke="#de951a" stroke-width="2.1"/>
<line x1="1408.12" y1="270.95" x2="1416.77" y2="275.61" stroke="#9e0e0e" stroke-width="2.1"/>
<line x1="1416.77" y1="275.61" x2="1425.42" y2="280.27" stroke="#c298bc" stroke-width="2.1"/>
<line x1="1408.12" y1="270.95" x2="1399.89" y2="275.57" stroke="#9e0e0e" stroke-width="2.1"/>
<line x1="1399.89" y1="275.57" x2="1391.66" y2="280.19" stroke="#c298bc" stroke-width="2.1"/>
<line x1="1408.12" y1="270.95" x2="1407.38" y2="261.58" stroke="#9e0e0e" stroke-width="2.1"/>
<line x1="1407.38" y1="261.58" x2="1406.64" y2="252.22" stroke="#c298bc" stroke-width="2.1"/>
<line x1="1441.88" y1="271.03" x2="1450.53" y2="275.69" stroke="#9e0e0e" stroke-width="2.1"/>
<line x1="1450.53" y1="275.69" x2="1459.17" y2="280.35" stroke="#de951a" stroke-width="2.1"/>
<line x1="1441.88" y1="271.03" x2="1433.65" y2="275.65" stroke="#9e0e0e" stroke-width="2.1"/>
<line x1="1433.65" y1="275.65" x2="1425.42" y2="280.27" stroke="#c298bc" stroke-width="2.1"/>
<line x1="1441.88" y1="271.03" x2="1441.14" y2="261.66" stroke="#9e0e0e" stroke-width="2.1"/>
<line x1="1441.14" y1="261.66" x2="1440.40" y2="252.30" stroke="#c298bc" stroke-width="2.1"/>
<line x1="1258.12" y1="298.60" x2="1266.77" y2="303.26" stroke="#0f6e6e" stroke-width="2.1"/>
<line x1="1266.77" y1="303.26" x2="1275.42" y2="307.92" stroke="#de951a" stroke-width="2.1"/>
<line x1="1258.12" y1="298.60" x2="1249.89" y2="303.22" stroke="#0f6e6e" stroke-width="2.1"/>
<line x1="1249.89" y1="303.22" x2="1241.66" y2="307.84" stroke="#de951a" stroke-width="2.1"/>
<line x1="1258.12" y1="298.60" x2="1257.38" y2="289.24" stroke="#0f6e6e" stroke-width="2.1"/>
<line x1="1257.38" y1="289.24" x2="1256.64" y2="279.87" stroke="#de951a" stroke-width="2.1"/>
<line x1="1291.88" y1="298.68" x2="1300.53" y2="303.34" stroke="#0f6e6e" stroke-width="2.1"/>
<line x1="1300.53" y1="303.34" x2="1309.17" y2="308.00" stroke="#c298bc" stroke-width="2.1"/>
<line x1="1291.88" y1="298.68" x2="1283.65" y2="303.30" stroke="#0f6e6e" stroke-width="2.1"/>
<line x1="1283.65" y1="303.30" x2="1275.42" y2="307.92" stroke="#de951a" stroke-width="2.1"/>
<line x1="1291.88" y1="298.68" x2="1291.14" y2="289.31" stroke="#0f6e6e" stroke-width="2.1"/>
<line x1="1291.14" y1="289.31" x2="1290.40" y2="279.95" stroke="#de951a" stroke-width="2.1"/>
<line x1="1325.63" y1="298.76" x2="1334.28" y2="303.42" stroke="#0f6e6e" stroke-width="2.1"/>
<line x1="1334.28" y1="303.42" x2="1342.93" y2="308.08" stroke="#c298bc" stroke-width="2.1"/>
<line x1="1325.63" y1="298.76" x2="1317.40" y2="303.38" stroke="#0f6e6e" stroke-width="2.1"/>
<line x1="1317.40" y1="303.38" x2="1309.17" y2="308.00" stroke="#c298bc" stroke-width="2.1"/>
<line x1="1325.63" y1="298.76" x2="1324.89" y2="289.39" stroke="#0f6e6e" stroke-width="2.1"/>
<line x1="1324.89" y1="289.39" x2="1324.15" y2="280.03" stroke="#c298bc" stroke-width="2.1"/>
<line x1="1359.38" y1="298.84" x2="1368.03" y2="303.50" stroke="#9e0e0e" stroke-width="2.1"/>
<line x1="1368.03" y1="303.50" x2="1376.68" y2="308.16" stroke="#c298bc" stroke-width="2.1"/>
<line x1="1359.38" y1="298.84" x2="1351.16" y2="303.46" stroke="#9e0e0e" stroke-width="2.1"/>
<line x1="1351.16" y1="303.46" x2="1342.93" y2="308.08" stroke="#c298bc" stroke-width="2.1"/>
<line x1="1359.38" y1="298.84" x2="1358.65" y2="289.48" stroke="#9e0e0e" stroke-width="2.1"/>
<line x1="1358.65" y1="289.48" x2="1357.91" y2="280.11" stroke="#de951a" stroke-width="2.1"/>
<line x1="1393.14" y1="298.92" x2="1401.79" y2="303.58" stroke="#9e0e0e" stroke-width="2.1"/>
<line x1="1401.79" y1="303.58" x2="1410.44" y2="308.24" stroke="#de951a" stroke-width="2.1"/>
<line x1="1393.14" y1="298.92" x2="1384.91" y2="303.54" stroke="#9e0e0e" stroke-width="2.1"/>
<line x1="1384.91" y1="303.54" x2="1376.68" y2="308.16" stroke="#c298bc" stroke-width="2.1"/>
<line x1="1393.14" y1="298.92" x2="1392.40" y2="289.55" stroke="#9e0e0e" stroke-width="2.1"/>
<line x1="1392.40" y1="289.55" x2="1391.66" y2="280.19" stroke="#c298bc" stroke-width="2.1"/>
<line x1="1426.89" y1="299.00" x2="1435.55" y2="303.66" stroke="#9e0e0e" stroke-width="2.1"/>
<line x1="1435.55" y1="303.66" x2="1444.19" y2="308.32" stroke="#de951a" stroke-width="2.1"/>
<line x1="1426.89" y1="299.00" x2="1418.67" y2="303.62" stroke="#9e0e0e" stroke-width="2.1"/>
<line x1="1418.67" y1="303.62" x2="1410.44" y2="308.24" stroke="#de951a" stroke-width="2.1"/>
<line x1="1426.89" y1="299.00" x2="1426.16" y2="289.63" stroke="#9e0e0e" stroke-width="2.1"/>
<line x1="1426.16" y1="289.63" x2="1425.42" y2="280.27" stroke="#c298bc" stroke-width="2.1"/>
<circle cx="1331.54" cy="140.02" r="4.15" fill="url(#gS)"/>
<circle cx="1365.30" cy="140.10" r="4.15" fill="url(#gS)"/>
<circle cx="1399.06" cy="140.18" r="4.15" fill="url(#gSe)"/>
<circle cx="1432.81" cy="140.26" r="4.15" fill="url(#gSe)"/>
<circle cx="1466.57" cy="140.34" r="4.15" fill="url(#gSe)"/>
<circle cx="1500.32" cy="140.42" r="4.15" fill="url(#gS)"/>
<circle cx="1534.08" cy="140.50" r="4.15" fill="url(#gS)"/>
<circle cx="1333.02" cy="158.75" r="5.6" fill="url(#gNb)"/>
<circle cx="1366.78" cy="158.83" r="5.6" fill="url(#gNb)"/>
<circle cx="1400.53" cy="158.91" r="5.6" fill="url(#gNb)"/>
<circle cx="1434.29" cy="158.99" r="5.6" fill="url(#gNb)"/>
<circle cx="1468.04" cy="159.07" r="5.6" fill="url(#gNb)"/>
<circle cx="1501.80" cy="159.15" r="5.6" fill="url(#gNb)"/>
<circle cx="1316.56" cy="167.99" r="4.15" fill="url(#gSe)"/>
<circle cx="1350.32" cy="168.07" r="4.15" fill="url(#gSe)"/>
<circle cx="1384.08" cy="168.15" r="4.15" fill="url(#gS)"/>
<circle cx="1417.83" cy="168.23" r="4.15" fill="url(#gS)"/>
<circle cx="1451.59" cy="168.31" r="4.15" fill="url(#gS)"/>
<circle cx="1485.34" cy="168.39" r="4.15" fill="url(#gS)"/>
<circle cx="1519.10" cy="168.47" r="4.15" fill="url(#gSe)"/>
<circle cx="1318.04" cy="186.72" r="5.6" fill="url(#gRe)"/>
<circle cx="1351.80" cy="186.80" r="5.6" fill="url(#gRe)"/>
<circle cx="1385.55" cy="186.88" r="5.6" fill="url(#gNb)"/>
<circle cx="1419.31" cy="186.96" r="5.6" fill="url(#gRe)"/>
<circle cx="1453.06" cy="187.04" r="5.6" fill="url(#gRe)"/>
<circle cx="1486.82" cy="187.12" r="5.6" fill="url(#gNb)"/>
<circle cx="1301.58" cy="195.96" r="4.15" fill="url(#gS)"/>
<circle cx="1335.34" cy="196.04" r="4.15" fill="url(#gSe)"/>
<circle cx="1369.10" cy="196.12" r="4.15" fill="url(#gSe)"/>
<circle cx="1402.85" cy="196.20" r="4.15" fill="url(#gS)"/>
<circle cx="1436.61" cy="196.28" r="4.15" fill="url(#gS)"/>
<circle cx="1470.36" cy="196.36" r="4.15" fill="url(#gSe)"/>
<circle cx="1504.12" cy="196.44" r="4.15" fill="url(#gS)"/>
<circle cx="1303.06" cy="214.69" r="5.6" fill="url(#gRe)"/>
<circle cx="1336.82" cy="214.77" r="5.6" fill="url(#gRe)"/>
<circle cx="1370.57" cy="214.85" r="5.6" fill="url(#gNb)"/>
<circle cx="1404.33" cy="214.93" r="5.6" fill="url(#gRe)"/>
<circle cx="1438.08" cy="215.01" r="5.6" fill="url(#gRe)"/>
<circle cx="1471.84" cy="215.09" r="5.6" fill="url(#gNb)"/>
<circle cx="1286.60" cy="223.93" r="4.15" fill="url(#gSe)"/>
<circle cx="1320.36" cy="224.01" r="4.15" fill="url(#gS)"/>
<circle cx="1354.12" cy="224.09" r="4.15" fill="url(#gS)"/>
<circle cx="1387.87" cy="224.17" r="4.15" fill="url(#gS)"/>
<circle cx="1421.62" cy="224.25" r="4.15" fill="url(#gSe)"/>
<circle cx="1455.38" cy="224.33" r="4.15" fill="url(#gS)"/>
<circle cx="1489.13" cy="224.41" r="4.15" fill="url(#gSe)"/>
<circle cx="1288.08" cy="242.66" r="5.6" fill="url(#gNb)"/>
<circle cx="1321.84" cy="242.74" r="5.6" fill="url(#gNb)"/>
<circle cx="1355.59" cy="242.82" r="5.6" fill="url(#gNb)"/>
<circle cx="1389.35" cy="242.90" r="5.6" fill="url(#gRe)"/>
<circle cx="1423.10" cy="242.98" r="5.6" fill="url(#gRe)"/>
<circle cx="1456.86" cy="243.06" r="5.6" fill="url(#gNb)"/>
<circle cx="1271.62" cy="251.90" r="4.15" fill="url(#gS)"/>
<circle cx="1305.38" cy="251.98" r="4.15" fill="url(#gSe)"/>
<circle cx="1339.13" cy="252.06" r="4.15" fill="url(#gS)"/>
<circle cx="1372.89" cy="252.14" r="4.15" fill="url(#gS)"/>
<circle cx="1406.64" cy="252.22" r="4.15" fill="url(#gSe)"/>
<circle cx="1440.40" cy="252.30" r="4.15" fill="url(#gSe)"/>
<circle cx="1474.15" cy="252.38" r="4.15" fill="url(#gS)"/>
<circle cx="1273.10" cy="270.63" r="5.6" fill="url(#gRe)"/>
<circle cx="1306.86" cy="270.71" r="5.6" fill="url(#gRe)"/>
<circle cx="1340.61" cy="270.79" r="5.6" fill="url(#gRe)"/>
<circle cx="1374.37" cy="270.87" r="5.6" fill="url(#gNb)"/>
<circle cx="1408.12" cy="270.95" r="5.6" fill="url(#gRe)"/>
<circle cx="1441.88" cy="271.03" r="5.6" fill="url(#gRe)"/>
<circle cx="1256.64" cy="279.87" r="4.15" fill="url(#gS)"/>
<circle cx="1290.40" cy="279.95" r="4.15" fill="url(#gS)"/>
<circle cx="1324.15" cy="280.03" r="4.15" fill="url(#gSe)"/>
<circle cx="1357.91" cy="280.11" r="4.15" fill="url(#gS)"/>
<circle cx="1391.66" cy="280.19" r="4.15" fill="url(#gSe)"/>
<circle cx="1425.42" cy="280.27" r="4.15" fill="url(#gSe)"/>
<circle cx="1459.17" cy="280.35" r="4.15" fill="url(#gS)"/>
<circle cx="1258.12" cy="298.60" r="5.6" fill="url(#gNb)"/>
<circle cx="1291.88" cy="298.68" r="5.6" fill="url(#gNb)"/>
<circle cx="1325.63" cy="298.76" r="5.6" fill="url(#gNb)"/>
<circle cx="1359.38" cy="298.84" r="5.6" fill="url(#gRe)"/>
<circle cx="1393.14" cy="298.92" r="5.6" fill="url(#gRe)"/>
<circle cx="1426.89" cy="299.00" r="5.6" fill="url(#gRe)"/>
<circle cx="1241.66" cy="307.84" r="4.15" fill="url(#gS)"/>
<circle cx="1275.42" cy="307.92" r="4.15" fill="url(#gS)"/>
<circle cx="1309.17" cy="308.00" r="4.15" fill="url(#gSe)"/>
<circle cx="1342.93" cy="308.08" r="4.15" fill="url(#gSe)"/>
<circle cx="1376.68" cy="308.16" r="4.15" fill="url(#gSe)"/>
<circle cx="1410.44" cy="308.24" r="4.15" fill="url(#gS)"/>
<circle cx="1444.19" cy="308.32" r="4.15" fill="url(#gS)"/>
<line x1="1726.18" y1="378.03" x2="1734.85" y2="382.70" stroke="#9e0e0e" stroke-width="2.1"/>
<line x1="1734.85" y1="382.70" x2="1743.51" y2="387.37" stroke="#de951a" stroke-width="2.1"/>
<line x1="1726.18" y1="378.03" x2="1717.97" y2="382.68" stroke="#9e0e0e" stroke-width="2.1"/>
<line x1="1717.97" y1="382.68" x2="1709.76" y2="387.32" stroke="#c298bc" stroke-width="2.1"/>
<line x1="1726.18" y1="378.03" x2="1725.46" y2="368.57" stroke="#9e0e0e" stroke-width="2.1"/>
<line x1="1725.46" y1="368.57" x2="1724.74" y2="359.11" stroke="#c298bc" stroke-width="2.1"/>
<line x1="1759.93" y1="378.07" x2="1768.60" y2="382.75" stroke="#9e0e0e" stroke-width="2.1"/>
<line x1="1768.60" y1="382.75" x2="1777.26" y2="387.41" stroke="#c298bc" stroke-width="2.1"/>
<line x1="1759.93" y1="378.07" x2="1751.72" y2="382.72" stroke="#9e0e0e" stroke-width="2.1"/>
<line x1="1751.72" y1="382.72" x2="1743.51" y2="387.37" stroke="#de951a" stroke-width="2.1"/>
<line x1="1759.93" y1="378.07" x2="1759.21" y2="368.62" stroke="#9e0e0e" stroke-width="2.1"/>
<line x1="1759.21" y1="368.62" x2="1758.49" y2="359.16" stroke="#c298bc" stroke-width="2.1"/>
<line x1="1793.68" y1="378.12" x2="1802.35" y2="382.79" stroke="#9e0e0e" stroke-width="2.1"/>
<line x1="1802.35" y1="382.79" x2="1811.01" y2="387.46" stroke="#c298bc" stroke-width="2.1"/>
<line x1="1793.68" y1="378.12" x2="1785.47" y2="382.77" stroke="#9e0e0e" stroke-width="2.1"/>
<line x1="1785.47" y1="382.77" x2="1777.26" y2="387.41" stroke="#c298bc" stroke-width="2.1"/>
<line x1="1793.68" y1="378.12" x2="1792.96" y2="368.66" stroke="#9e0e0e" stroke-width="2.1"/>
<line x1="1792.96" y1="368.66" x2="1792.24" y2="359.20" stroke="#c298bc" stroke-width="2.1"/>
<line x1="1827.43" y1="378.16" x2="1836.10" y2="382.83" stroke="#9e0e0e" stroke-width="2.1"/>
<line x1="1836.10" y1="382.83" x2="1844.76" y2="387.50" stroke="#de951a" stroke-width="2.1"/>
<line x1="1827.43" y1="378.16" x2="1819.22" y2="382.81" stroke="#9e0e0e" stroke-width="2.1"/>
<line x1="1819.22" y1="382.81" x2="1811.01" y2="387.46" stroke="#c298bc" stroke-width="2.1"/>
<line x1="1827.43" y1="378.16" x2="1826.71" y2="368.71" stroke="#9e0e0e" stroke-width="2.1"/>
<line x1="1826.71" y1="368.71" x2="1825.99" y2="359.25" stroke="#c298bc" stroke-width="2.1"/>
<line x1="1861.18" y1="378.21" x2="1869.85" y2="382.88" stroke="#0f6e6e" stroke-width="2.1"/>
<line x1="1869.85" y1="382.88" x2="1878.51" y2="387.55" stroke="#c298bc" stroke-width="2.1"/>
<line x1="1861.18" y1="378.21" x2="1852.97" y2="382.86" stroke="#0f6e6e" stroke-width="2.1"/>
<line x1="1852.97" y1="382.86" x2="1844.76" y2="387.50" stroke="#de951a" stroke-width="2.1"/>
<line x1="1861.18" y1="378.21" x2="1860.46" y2="368.75" stroke="#0f6e6e" stroke-width="2.1"/>
<line x1="1860.46" y1="368.75" x2="1859.74" y2="359.29" stroke="#de951a" stroke-width="2.1"/>
<line x1="1894.93" y1="378.25" x2="1903.60" y2="382.92" stroke="#0f6e6e" stroke-width="2.1"/>
<line x1="1903.60" y1="382.92" x2="1912.26" y2="387.59" stroke="#c298bc" stroke-width="2.1"/>
<line x1="1894.93" y1="378.25" x2="1886.72" y2="382.90" stroke="#0f6e6e" stroke-width="2.1"/>
<line x1="1886.72" y1="382.90" x2="1878.51" y2="387.55" stroke="#c298bc" stroke-width="2.1"/>
<line x1="1894.93" y1="378.25" x2="1894.21" y2="368.80" stroke="#0f6e6e" stroke-width="2.1"/>
<line x1="1894.21" y1="368.80" x2="1893.49" y2="359.34" stroke="#de951a" stroke-width="2.1"/>
<line x1="1711.20" y1="406.24" x2="1719.87" y2="410.91" stroke="#9e0e0e" stroke-width="2.1"/>
<line x1="1719.87" y1="410.91" x2="1728.53" y2="415.58" stroke="#c298bc" stroke-width="2.1"/>
<line x1="1711.20" y1="406.24" x2="1702.99" y2="410.89" stroke="#9e0e0e" stroke-width="2.1"/>
<line x1="1702.99" y1="410.89" x2="1694.78" y2="415.53" stroke="#de951a" stroke-width="2.1"/>
<line x1="1711.20" y1="406.24" x2="1710.48" y2="396.78" stroke="#9e0e0e" stroke-width="2.1"/>
<line x1="1710.48" y1="396.78" x2="1709.76" y2="387.32" stroke="#c298bc" stroke-width="2.1"/>
<line x1="1744.95" y1="406.28" x2="1753.62" y2="410.95" stroke="#0f6e6e" stroke-width="2.1"/>
<line x1="1753.62" y1="410.95" x2="1762.28" y2="415.62" stroke="#de951a" stroke-width="2.1"/>
<line x1="1744.95" y1="406.28" x2="1736.74" y2="410.93" stroke="#0f6e6e" stroke-width="2.1"/>
<line x1="1736.74" y1="410.93" x2="1728.53" y2="415.58" stroke="#c298bc" stroke-width="2.1"/>
<line x1="1744.95" y1="406.28" x2="1744.23" y2="396.83" stroke="#0f6e6e" stroke-width="2.1"/>
<line x1="1744.23" y1="396.83" x2="1743.51" y2="387.37" stroke="#de951a" stroke-width="2.1"/>
<line x1="1778.70" y1="406.33" x2="1787.37" y2="411.00" stroke="#0f6e6e" stroke-width="2.1"/>
<line x1="1787.37" y1="411.00" x2="1796.03" y2="415.67" stroke="#c298bc" stroke-width="2.1"/>
<line x1="1778.70" y1="406.33" x2="1770.49" y2="410.98" stroke="#0f6e6e" stroke-width="2.1"/>
<line x1="1770.49" y1="410.98" x2="1762.28" y2="415.62" stroke="#de951a" stroke-width="2.1"/>
<line x1="1778.70" y1="406.33" x2="1777.98" y2="396.87" stroke="#0f6e6e" stroke-width="2.1"/>
<line x1="1777.98" y1="396.87" x2="1777.26" y2="387.41" stroke="#c298bc" stroke-width="2.1"/>
<line x1="1812.45" y1="406.37" x2="1821.12" y2="411.04" stroke="#0f6e6e" stroke-width="2.1"/>
<line x1="1821.12" y1="411.04" x2="1829.78" y2="415.71" stroke="#c298bc" stroke-width="2.1"/>
<line x1="1812.45" y1="406.37" x2="1804.24" y2="411.02" stroke="#0f6e6e" stroke-width="2.1"/>
<line x1="1804.24" y1="411.02" x2="1796.03" y2="415.67" stroke="#c298bc" stroke-width="2.1"/>
<line x1="1812.45" y1="406.37" x2="1811.73" y2="396.92" stroke="#0f6e6e" stroke-width="2.1"/>
<line x1="1811.73" y1="396.92" x2="1811.01" y2="387.46" stroke="#c298bc" stroke-width="2.1"/>
<line x1="1846.20" y1="406.42" x2="1854.87" y2="411.09" stroke="#0f6e6e" stroke-width="2.1"/>
<line x1="1854.87" y1="411.09" x2="1863.53" y2="415.76" stroke="#de951a" stroke-width="2.1"/>
<line x1="1846.20" y1="406.42" x2="1837.99" y2="411.07" stroke="#0f6e6e" stroke-width="2.1"/>
<line x1="1837.99" y1="411.07" x2="1829.78" y2="415.71" stroke="#c298bc" stroke-width="2.1"/>
<line x1="1846.20" y1="406.42" x2="1845.48" y2="396.96" stroke="#0f6e6e" stroke-width="2.1"/>
<line x1="1845.48" y1="396.96" x2="1844.76" y2="387.50" stroke="#de951a" stroke-width="2.1"/>
<line x1="1879.95" y1="406.46" x2="1888.62" y2="411.13" stroke="#9e0e0e" stroke-width="2.1"/>
<line x1="1888.62" y1="411.13" x2="1897.28" y2="415.80" stroke="#de951a" stroke-width="2.1"/>
<line x1="1879.95" y1="406.46" x2="1871.74" y2="411.11" stroke="#9e0e0e" stroke-width="2.1"/>
<line x1="1871.74" y1="411.11" x2="1863.53" y2="415.76" stroke="#de951a" stroke-width="2.1"/>
<line x1="1879.95" y1="406.46" x2="1879.23" y2="397.01" stroke="#9e0e0e" stroke-width="2.1"/>
<line x1="1879.23" y1="397.01" x2="1878.51" y2="387.55" stroke="#c298bc" stroke-width="2.1"/>
<line x1="1696.22" y1="434.45" x2="1704.88" y2="439.12" stroke="#0f6e6e" stroke-width="2.1"/>
<line x1="1704.88" y1="439.12" x2="1713.55" y2="443.79" stroke="#c298bc" stroke-width="2.1"/>
<line x1="1696.22" y1="434.45" x2="1688.01" y2="439.10" stroke="#0f6e6e" stroke-width="2.1"/>
<line x1="1688.01" y1="439.10" x2="1679.80" y2="443.74" stroke="#de951a" stroke-width="2.1"/>
<line x1="1696.22" y1="434.45" x2="1695.50" y2="424.99" stroke="#0f6e6e" stroke-width="2.1"/>
<line x1="1695.50" y1="424.99" x2="1694.78" y2="415.53" stroke="#de951a" stroke-width="2.1"/>
<line x1="1729.97" y1="434.50" x2="1738.63" y2="439.16" stroke="#0f6e6e" stroke-width="2.1"/>
<line x1="1738.63" y1="439.16" x2="1747.30" y2="443.83" stroke="#de951a" stroke-width="2.1"/>
<line x1="1729.97" y1="434.50" x2="1721.76" y2="439.14" stroke="#0f6e6e" stroke-width="2.1"/>
<line x1="1721.76" y1="439.14" x2="1713.55" y2="443.79" stroke="#c298bc" stroke-width="2.1"/>
<line x1="1729.97" y1="434.50" x2="1729.25" y2="425.04" stroke="#0f6e6e" stroke-width="2.1"/>
<line x1="1729.25" y1="425.04" x2="1728.53" y2="415.58" stroke="#c298bc" stroke-width="2.1"/>
<line x1="1763.72" y1="434.54" x2="1772.38" y2="439.21" stroke="#9e0e0e" stroke-width="2.1"/>
<line x1="1772.38" y1="439.21" x2="1781.05" y2="443.88" stroke="#de951a" stroke-width="2.1"/>
<line x1="1763.72" y1="434.54" x2="1755.51" y2="439.19" stroke="#9e0e0e" stroke-width="2.1"/>
<line x1="1755.51" y1="439.19" x2="1747.30" y2="443.83" stroke="#de951a" stroke-width="2.1"/>
<line x1="1763.72" y1="434.54" x2="1763.00" y2="425.08" stroke="#9e0e0e" stroke-width="2.1"/>
<line x1="1763.00" y1="425.08" x2="1762.28" y2="415.62" stroke="#de951a" stroke-width="2.1"/>
<line x1="1797.47" y1="434.58" x2="1806.13" y2="439.25" stroke="#9e0e0e" stroke-width="2.1"/>
<line x1="1806.13" y1="439.25" x2="1814.80" y2="443.92" stroke="#de951a" stroke-width="2.1"/>
<line x1="1797.47" y1="434.58" x2="1789.26" y2="439.23" stroke="#9e0e0e" stroke-width="2.1"/>
<line x1="1789.26" y1="439.23" x2="1781.05" y2="443.88" stroke="#de951a" stroke-width="2.1"/>
<line x1="1797.47" y1="434.58" x2="1796.75" y2="425.13" stroke="#9e0e0e" stroke-width="2.1"/>
<line x1="1796.75" y1="425.13" x2="1796.03" y2="415.67" stroke="#c298bc" stroke-width="2.1"/>
<line x1="1831.22" y1="434.63" x2="1839.88" y2="439.30" stroke="#9e0e0e" stroke-width="2.1"/>
<line x1="1839.88" y1="439.30" x2="1848.55" y2="443.97" stroke="#de951a" stroke-width="2.1"/>
<line x1="1831.22" y1="434.63" x2="1823.01" y2="439.28" stroke="#9e0e0e" stroke-width="2.1"/>
<line x1="1823.01" y1="439.28" x2="1814.80" y2="443.92" stroke="#de951a" stroke-width="2.1"/>
<line x1="1831.22" y1="434.63" x2="1830.50" y2="425.17" stroke="#9e0e0e" stroke-width="2.1"/>
<line x1="1830.50" y1="425.17" x2="1829.78" y2="415.71" stroke="#c298bc" stroke-width="2.1"/>
<line x1="1864.97" y1="434.68" x2="1873.63" y2="439.35" stroke="#9e0e0e" stroke-width="2.1"/>
<line x1="1873.63" y1="439.35" x2="1882.30" y2="444.01" stroke="#de951a" stroke-width="2.1"/>
<line x1="1864.97" y1="434.68" x2="1856.76" y2="439.32" stroke="#9e0e0e" stroke-width="2.1"/>
<line x1="1856.76" y1="439.32" x2="1848.55" y2="443.97" stroke="#de951a" stroke-width="2.1"/>
<line x1="1864.97" y1="434.68" x2="1864.25" y2="425.22" stroke="#9e0e0e" stroke-width="2.1"/>
<line x1="1864.25" y1="425.22" x2="1863.53" y2="415.76" stroke="#de951a" stroke-width="2.1"/>
<line x1="1681.24" y1="462.66" x2="1689.90" y2="467.33" stroke="#0f6e6e" stroke-width="2.1"/>
<line x1="1689.90" y1="467.33" x2="1698.57" y2="472.00" stroke="#de951a" stroke-width="2.1"/>
<line x1="1681.24" y1="462.66" x2="1673.03" y2="467.31" stroke="#0f6e6e" stroke-width="2.1"/>
<line x1="1673.03" y1="467.31" x2="1664.82" y2="471.95" stroke="#de951a" stroke-width="2.1"/>
<line x1="1681.24" y1="462.66" x2="1680.52" y2="453.20" stroke="#0f6e6e" stroke-width="2.1"/>
<line x1="1680.52" y1="453.20" x2="1679.80" y2="443.74" stroke="#de951a" stroke-width="2.1"/>
<line x1="1714.99" y1="462.70" x2="1723.65" y2="467.38" stroke="#9e0e0e" stroke-width="2.1"/>
<line x1="1723.65" y1="467.38" x2="1732.32" y2="472.04" stroke="#c298bc" stroke-width="2.1"/>
<line x1="1714.99" y1="462.70" x2="1706.78" y2="467.35" stroke="#9e0e0e" stroke-width="2.1"/>
<line x1="1706.78" y1="467.35" x2="1698.57" y2="472.00" stroke="#de951a" stroke-width="2.1"/>
<line x1="1714.99" y1="462.70" x2="1714.27" y2="453.25" stroke="#9e0e0e" stroke-width="2.1"/>
<line x1="1714.27" y1="453.25" x2="1713.55" y2="443.79" stroke="#c298bc" stroke-width="2.1"/>
<line x1="1748.74" y1="462.75" x2="1757.40" y2="467.42" stroke="#9e0e0e" stroke-width="2.1"/>
<line x1="1757.40" y1="467.42" x2="1766.07" y2="472.09" stroke="#de951a" stroke-width="2.1"/>
<line x1="1748.74" y1="462.75" x2="1740.53" y2="467.40" stroke="#9e0e0e" stroke-width="2.1"/>
<line x1="1740.53" y1="467.40" x2="1732.32" y2="472.04" stroke="#c298bc" stroke-width="2.1"/>
<line x1="1748.74" y1="462.75" x2="1748.02" y2="453.29" stroke="#9e0e0e" stroke-width="2.1"/>
<line x1="1748.02" y1="453.29" x2="1747.30" y2="443.83" stroke="#de951a" stroke-width="2.1"/>
<line x1="1782.49" y1="462.79" x2="1791.15" y2="467.46" stroke="#0f6e6e" stroke-width="2.1"/>
<line x1="1791.15" y1="467.46" x2="1799.82" y2="472.13" stroke="#c298bc" stroke-width="2.1"/>
<line x1="1782.49" y1="462.79" x2="1774.28" y2="467.44" stroke="#0f6e6e" stroke-width="2.1"/>
<line x1="1774.28" y1="467.44" x2="1766.07" y2="472.09" stroke="#de951a" stroke-width="2.1"/>
<line x1="1782.49" y1="462.79" x2="1781.77" y2="453.34" stroke="#0f6e6e" stroke-width="2.1"/>
<line x1="1781.77" y1="453.34" x2="1781.05" y2="443.88" stroke="#de951a" stroke-width="2.1"/>
<line x1="1816.24" y1="462.84" x2="1824.90" y2="467.51" stroke="#0f6e6e" stroke-width="2.1"/>
<line x1="1824.90" y1="467.51" x2="1833.57" y2="472.18" stroke="#c298bc" stroke-width="2.1"/>
<line x1="1816.24" y1="462.84" x2="1808.03" y2="467.49" stroke="#0f6e6e" stroke-width="2.1"/>
<line x1="1808.03" y1="467.49" x2="1799.82" y2="472.13" stroke="#c298bc" stroke-width="2.1"/>
<line x1="1816.24" y1="462.84" x2="1815.52" y2="453.38" stroke="#0f6e6e" stroke-width="2.1"/>
<line x1="1815.52" y1="453.38" x2="1814.80" y2="443.92" stroke="#de951a" stroke-width="2.1"/>
<line x1="1849.99" y1="462.88" x2="1858.65" y2="467.55" stroke="#0f6e6e" stroke-width="2.1"/>
<line x1="1858.65" y1="467.55" x2="1867.32" y2="472.22" stroke="#de951a" stroke-width="2.1"/>
<line x1="1849.99" y1="462.88" x2="1841.78" y2="467.53" stroke="#0f6e6e" stroke-width="2.1"/>
<line x1="1841.78" y1="467.53" x2="1833.57" y2="472.18" stroke="#c298bc" stroke-width="2.1"/>
<line x1="1849.99" y1="462.88" x2="1849.27" y2="453.43" stroke="#0f6e6e" stroke-width="2.1"/>
<line x1="1849.27" y1="453.43" x2="1848.55" y2="443.97" stroke="#de951a" stroke-width="2.1"/>
<line x1="1666.26" y1="490.87" x2="1674.92" y2="495.54" stroke="#9e0e0e" stroke-width="2.1"/>
<line x1="1674.92" y1="495.54" x2="1683.59" y2="500.21" stroke="#c298bc" stroke-width="2.1"/>
<line x1="1666.26" y1="490.87" x2="1658.05" y2="495.52" stroke="#9e0e0e" stroke-width="2.1"/>
<line x1="1658.05" y1="495.52" x2="1649.84" y2="500.16" stroke="#de951a" stroke-width="2.1"/>
<line x1="1666.26" y1="490.87" x2="1665.54" y2="481.41" stroke="#9e0e0e" stroke-width="2.1"/>
<line x1="1665.54" y1="481.41" x2="1664.82" y2="471.95" stroke="#de951a" stroke-width="2.1"/>
<line x1="1700.01" y1="490.91" x2="1708.67" y2="495.58" stroke="#9e0e0e" stroke-width="2.1"/>
<line x1="1708.67" y1="495.58" x2="1717.34" y2="500.25" stroke="#c298bc" stroke-width="2.1"/>
<line x1="1700.01" y1="490.91" x2="1691.80" y2="495.56" stroke="#9e0e0e" stroke-width="2.1"/>
<line x1="1691.80" y1="495.56" x2="1683.59" y2="500.21" stroke="#c298bc" stroke-width="2.1"/>
<line x1="1700.01" y1="490.91" x2="1699.29" y2="481.46" stroke="#9e0e0e" stroke-width="2.1"/>
<line x1="1699.29" y1="481.46" x2="1698.57" y2="472.00" stroke="#de951a" stroke-width="2.1"/>
<line x1="1733.76" y1="490.96" x2="1742.42" y2="495.63" stroke="#0f6e6e" stroke-width="2.1"/>
<line x1="1742.42" y1="495.63" x2="1751.09" y2="500.30" stroke="#de951a" stroke-width="2.1"/>
<line x1="1733.76" y1="490.96" x2="1725.55" y2="495.61" stroke="#0f6e6e" stroke-width="2.1"/>
<line x1="1725.55" y1="495.61" x2="1717.34" y2="500.25" stroke="#c298bc" stroke-width="2.1"/>
<line x1="1733.76" y1="490.96" x2="1733.04" y2="481.50" stroke="#0f6e6e" stroke-width="2.1"/>
<line x1="1733.04" y1="481.50" x2="1732.32" y2="472.04" stroke="#c298bc" stroke-width="2.1"/>
<line x1="1767.51" y1="491.00" x2="1776.17" y2="495.67" stroke="#0f6e6e" stroke-width="2.1"/>
<line x1="1776.17" y1="495.67" x2="1784.84" y2="500.34" stroke="#c298bc" stroke-width="2.1"/>
<line x1="1767.51" y1="491.00" x2="1759.30" y2="495.65" stroke="#0f6e6e" stroke-width="2.1"/>
<line x1="1759.30" y1="495.65" x2="1751.09" y2="500.30" stroke="#de951a" stroke-width="2.1"/>
<line x1="1767.51" y1="491.00" x2="1766.79" y2="481.55" stroke="#0f6e6e" stroke-width="2.1"/>
<line x1="1766.79" y1="481.55" x2="1766.07" y2="472.09" stroke="#de951a" stroke-width="2.1"/>
<line x1="1801.26" y1="491.05" x2="1809.92" y2="495.72" stroke="#9e0e0e" stroke-width="2.1"/>
<line x1="1809.92" y1="495.72" x2="1818.59" y2="500.39" stroke="#de951a" stroke-width="2.1"/>
<line x1="1801.26" y1="491.05" x2="1793.05" y2="495.70" stroke="#9e0e0e" stroke-width="2.1"/>
<line x1="1793.05" y1="495.70" x2="1784.84" y2="500.34" stroke="#c298bc" stroke-width="2.1"/>
<line x1="1801.26" y1="491.05" x2="1800.54" y2="481.59" stroke="#9e0e0e" stroke-width="2.1"/>
<line x1="1800.54" y1="481.59" x2="1799.82" y2="472.13" stroke="#c298bc" stroke-width="2.1"/>
<line x1="1835.01" y1="491.10" x2="1843.67" y2="495.76" stroke="#9e0e0e" stroke-width="2.1"/>
<line x1="1843.67" y1="495.76" x2="1852.34" y2="500.44" stroke="#de951a" stroke-width="2.1"/>
<line x1="1835.01" y1="491.10" x2="1826.80" y2="495.74" stroke="#9e0e0e" stroke-width="2.1"/>
<line x1="1826.80" y1="495.74" x2="1818.59" y2="500.39" stroke="#de951a" stroke-width="2.1"/>
<line x1="1835.01" y1="491.10" x2="1834.29" y2="481.64" stroke="#9e0e0e" stroke-width="2.1"/>
<line x1="1834.29" y1="481.64" x2="1833.57" y2="472.18" stroke="#c298bc" stroke-width="2.1"/>
<line x1="1651.28" y1="519.08" x2="1659.94" y2="523.75" stroke="#0f6e6e" stroke-width="2.1"/>
<line x1="1659.94" y1="523.75" x2="1668.61" y2="528.42" stroke="#c298bc" stroke-width="2.1"/>
<line x1="1651.28" y1="519.08" x2="1643.07" y2="523.73" stroke="#0f6e6e" stroke-width="2.1"/>
<line x1="1643.07" y1="523.73" x2="1634.86" y2="528.38" stroke="#c298bc" stroke-width="2.1"/>
<line x1="1651.28" y1="519.08" x2="1650.56" y2="509.62" stroke="#0f6e6e" stroke-width="2.1"/>
<line x1="1650.56" y1="509.62" x2="1649.84" y2="500.16" stroke="#de951a" stroke-width="2.1"/>
<line x1="1685.03" y1="519.12" x2="1693.69" y2="523.80" stroke="#0f6e6e" stroke-width="2.1"/>
<line x1="1693.69" y1="523.80" x2="1702.36" y2="528.47" stroke="#c298bc" stroke-width="2.1"/>
<line x1="1685.03" y1="519.12" x2="1676.82" y2="523.77" stroke="#0f6e6e" stroke-width="2.1"/>
<line x1="1676.82" y1="523.77" x2="1668.61" y2="528.42" stroke="#c298bc" stroke-width="2.1"/>
<line x1="1685.03" y1="519.12" x2="1684.31" y2="509.67" stroke="#0f6e6e" stroke-width="2.1"/>
<line x1="1684.31" y1="509.67" x2="1683.59" y2="500.21" stroke="#c298bc" stroke-width="2.1"/>
<line x1="1718.78" y1="519.17" x2="1727.44" y2="523.84" stroke="#0f6e6e" stroke-width="2.1"/>
<line x1="1727.44" y1="523.84" x2="1736.11" y2="528.51" stroke="#c298bc" stroke-width="2.1"/>
<line x1="1718.78" y1="519.17" x2="1710.57" y2="523.82" stroke="#0f6e6e" stroke-width="2.1"/>
<line x1="1710.57" y1="523.82" x2="1702.36" y2="528.47" stroke="#c298bc" stroke-width="2.1"/>
<line x1="1718.78" y1="519.17" x2="1718.06" y2="509.71" stroke="#0f6e6e" stroke-width="2.1"/>
<line x1="1718.06" y1="509.71" x2="1717.34" y2="500.25" stroke="#c298bc" stroke-width="2.1"/>
<line x1="1752.53" y1="519.21" x2="1761.19" y2="523.88" stroke="#9e0e0e" stroke-width="2.1"/>
<line x1="1761.19" y1="523.88" x2="1769.86" y2="528.55" stroke="#de951a" stroke-width="2.1"/>
<line x1="1752.53" y1="519.21" x2="1744.32" y2="523.86" stroke="#9e0e0e" stroke-width="2.1"/>
<line x1="1744.32" y1="523.86" x2="1736.11" y2="528.51" stroke="#c298bc" stroke-width="2.1"/>
<line x1="1752.53" y1="519.21" x2="1751.81" y2="509.76" stroke="#9e0e0e" stroke-width="2.1"/>
<line x1="1751.81" y1="509.76" x2="1751.09" y2="500.30" stroke="#de951a" stroke-width="2.1"/>
<line x1="1786.28" y1="519.26" x2="1794.94" y2="523.93" stroke="#9e0e0e" stroke-width="2.1"/>
<line x1="1794.94" y1="523.93" x2="1803.61" y2="528.60" stroke="#de951a" stroke-width="2.1"/>
<line x1="1786.28" y1="519.26" x2="1778.07" y2="523.91" stroke="#9e0e0e" stroke-width="2.1"/>
<line x1="1778.07" y1="523.91" x2="1769.86" y2="528.55" stroke="#de951a" stroke-width="2.1"/>
<line x1="1786.28" y1="519.26" x2="1785.56" y2="509.80" stroke="#9e0e0e" stroke-width="2.1"/>
<line x1="1785.56" y1="509.80" x2="1784.84" y2="500.34" stroke="#c298bc" stroke-width="2.1"/>
<line x1="1820.03" y1="519.31" x2="1828.69" y2="523.98" stroke="#0f6e6e" stroke-width="2.1"/>
<line x1="1828.69" y1="523.98" x2="1837.36" y2="528.65" stroke="#c298bc" stroke-width="2.1"/>
<line x1="1820.03" y1="519.31" x2="1811.82" y2="523.95" stroke="#0f6e6e" stroke-width="2.1"/>
<line x1="1811.82" y1="523.95" x2="1803.61" y2="528.60" stroke="#de951a" stroke-width="2.1"/>
<line x1="1820.03" y1="519.31" x2="1819.31" y2="509.85" stroke="#0f6e6e" stroke-width="2.1"/>
<line x1="1819.31" y1="509.85" x2="1818.59" y2="500.39" stroke="#de951a" stroke-width="2.1"/>
<circle cx="1724.74" cy="359.11" r="4.15" fill="url(#gSe)"/>
<circle cx="1758.49" cy="359.16" r="4.15" fill="url(#gSe)"/>
<circle cx="1792.24" cy="359.20" r="4.15" fill="url(#gSe)"/>
<circle cx="1825.99" cy="359.25" r="4.15" fill="url(#gSe)"/>
<circle cx="1859.74" cy="359.29" r="4.15" fill="url(#gS)"/>
<circle cx="1893.49" cy="359.34" r="4.15" fill="url(#gS)"/>
<circle cx="1927.24" cy="359.38" r="4.15" fill="url(#gS)"/>
<circle cx="1726.18" cy="378.03" r="5.6" fill="url(#gRe)"/>
<circle cx="1759.93" cy="378.07" r="5.6" fill="url(#gRe)"/>
<circle cx="1793.68" cy="378.12" r="5.6" fill="url(#gRe)"/>
<circle cx="1827.43" cy="378.16" r="5.6" fill="url(#gRe)"/>
<circle cx="1861.18" cy="378.21" r="5.6" fill="url(#gNb)"/>
<circle cx="1894.93" cy="378.25" r="5.6" fill="url(#gNb)"/>
<circle cx="1709.76" cy="387.32" r="4.15" fill="url(#gSe)"/>
<circle cx="1743.51" cy="387.37" r="4.15" fill="url(#gS)"/>
<circle cx="1777.26" cy="387.41" r="4.15" fill="url(#gSe)"/>
<circle cx="1811.01" cy="387.46" r="4.15" fill="url(#gSe)"/>
<circle cx="1844.76" cy="387.50" r="4.15" fill="url(#gS)"/>
<circle cx="1878.51" cy="387.55" r="4.15" fill="url(#gSe)"/>
<circle cx="1912.26" cy="387.59" r="4.15" fill="url(#gSe)"/>
<circle cx="1711.20" cy="406.24" r="5.6" fill="url(#gRe)"/>
<circle cx="1744.95" cy="406.28" r="5.6" fill="url(#gNb)"/>
<circle cx="1778.70" cy="406.33" r="5.6" fill="url(#gNb)"/>
<circle cx="1812.45" cy="406.37" r="5.6" fill="url(#gNb)"/>
<circle cx="1846.20" cy="406.42" r="5.6" fill="url(#gNb)"/>
<circle cx="1879.95" cy="406.46" r="5.6" fill="url(#gRe)"/>
<circle cx="1694.78" cy="415.53" r="4.15" fill="url(#gS)"/>
<circle cx="1728.53" cy="415.58" r="4.15" fill="url(#gSe)"/>
<circle cx="1762.28" cy="415.62" r="4.15" fill="url(#gS)"/>
<circle cx="1796.03" cy="415.67" r="4.15" fill="url(#gSe)"/>
<circle cx="1829.78" cy="415.71" r="4.15" fill="url(#gSe)"/>
<circle cx="1863.53" cy="415.76" r="4.15" fill="url(#gS)"/>
<circle cx="1897.28" cy="415.80" r="4.15" fill="url(#gS)"/>
<circle cx="1696.22" cy="434.45" r="5.6" fill="url(#gNb)"/>
<circle cx="1729.97" cy="434.50" r="5.6" fill="url(#gNb)"/>
<circle cx="1763.72" cy="434.54" r="5.6" fill="url(#gRe)"/>
<circle cx="1797.47" cy="434.58" r="5.6" fill="url(#gRe)"/>
<circle cx="1831.22" cy="434.63" r="5.6" fill="url(#gRe)"/>
<circle cx="1864.97" cy="434.68" r="5.6" fill="url(#gRe)"/>
<circle cx="1679.80" cy="443.74" r="4.15" fill="url(#gS)"/>
<circle cx="1713.55" cy="443.79" r="4.15" fill="url(#gSe)"/>
<circle cx="1747.30" cy="443.83" r="4.15" fill="url(#gS)"/>
<circle cx="1781.05" cy="443.88" r="4.15" fill="url(#gS)"/>
<circle cx="1814.80" cy="443.92" r="4.15" fill="url(#gS)"/>
<circle cx="1848.55" cy="443.97" r="4.15" fill="url(#gS)"/>
<circle cx="1882.30" cy="444.01" r="4.15" fill="url(#gS)"/>
<circle cx="1681.24" cy="462.66" r="5.6" fill="url(#gNb)"/>
<circle cx="1714.99" cy="462.70" r="5.6" fill="url(#gRe)"/>
<circle cx="1748.74" cy="462.75" r="5.6" fill="url(#gRe)"/>
<circle cx="1782.49" cy="462.79" r="5.6" fill="url(#gNb)"/>
<circle cx="1816.24" cy="462.84" r="5.6" fill="url(#gNb)"/>
<circle cx="1849.99" cy="462.88" r="5.6" fill="url(#gNb)"/>
<circle cx="1664.82" cy="471.95" r="4.15" fill="url(#gS)"/>
<circle cx="1698.57" cy="472.00" r="4.15" fill="url(#gS)"/>
<circle cx="1732.32" cy="472.04" r="4.15" fill="url(#gSe)"/>
<circle cx="1766.07" cy="472.09" r="4.15" fill="url(#gS)"/>
<circle cx="1799.82" cy="472.13" r="4.15" fill="url(#gSe)"/>
<circle cx="1833.57" cy="472.18" r="4.15" fill="url(#gSe)"/>
<circle cx="1867.32" cy="472.22" r="4.15" fill="url(#gS)"/>
<circle cx="1666.26" cy="490.87" r="5.6" fill="url(#gRe)"/>
<circle cx="1700.01" cy="490.91" r="5.6" fill="url(#gRe)"/>
<circle cx="1733.76" cy="490.96" r="5.6" fill="url(#gNb)"/>
<circle cx="1767.51" cy="491.00" r="5.6" fill="url(#gNb)"/>
<circle cx="1801.26" cy="491.05" r="5.6" fill="url(#gRe)"/>
<circle cx="1835.01" cy="491.10" r="5.6" fill="url(#gRe)"/>
<circle cx="1649.84" cy="500.16" r="4.15" fill="url(#gS)"/>
<circle cx="1683.59" cy="500.21" r="4.15" fill="url(#gSe)"/>
<circle cx="1717.34" cy="500.25" r="4.15" fill="url(#gSe)"/>
<circle cx="1751.09" cy="500.30" r="4.15" fill="url(#gS)"/>
<circle cx="1784.84" cy="500.34" r="4.15" fill="url(#gSe)"/>
<circle cx="1818.59" cy="500.39" r="4.15" fill="url(#gS)"/>
<circle cx="1852.34" cy="500.44" r="4.15" fill="url(#gS)"/>
<circle cx="1651.28" cy="519.08" r="5.6" fill="url(#gNb)"/>
<circle cx="1685.03" cy="519.12" r="5.6" fill="url(#gNb)"/>
<circle cx="1718.78" cy="519.17" r="5.6" fill="url(#gNb)"/>
<circle cx="1752.53" cy="519.21" r="5.6" fill="url(#gRe)"/>
<circle cx="1786.28" cy="519.26" r="5.6" fill="url(#gRe)"/>
<circle cx="1820.03" cy="519.31" r="5.6" fill="url(#gNb)"/>
<circle cx="1634.86" cy="528.38" r="4.15" fill="url(#gSe)"/>
<circle cx="1668.61" cy="528.42" r="4.15" fill="url(#gSe)"/>
<circle cx="1702.36" cy="528.47" r="4.15" fill="url(#gSe)"/>
<circle cx="1736.11" cy="528.51" r="4.15" fill="url(#gSe)"/>
<circle cx="1769.86" cy="528.55" r="4.15" fill="url(#gS)"/>
<circle cx="1803.61" cy="528.60" r="4.15" fill="url(#gS)"/>
<circle cx="1837.36" cy="528.65" r="4.15" fill="url(#gSe)"/>
<circle cx="1607.2" cy="196.8" r="17" fill="url(#gRe)"/>
<text x="1625.8" y="206" font-size="30.5">Re</text>
<circle cx="1702.0" cy="197.0" r="17" fill="url(#gNb)"/>
<text x="1723.4" y="206" font-size="30.5">Nb</text>
<circle cx="1801.8" cy="197.2" r="17" fill="url(#gS)"/>
<text x="1823.6" y="206" font-size="30.5">S</text>
<circle cx="1889.4" cy="196.0" r="17" fill="url(#gSe)"/>
<text x="1910.5" y="206" font-size="30.5">Se</text>
</svg></body></html>
